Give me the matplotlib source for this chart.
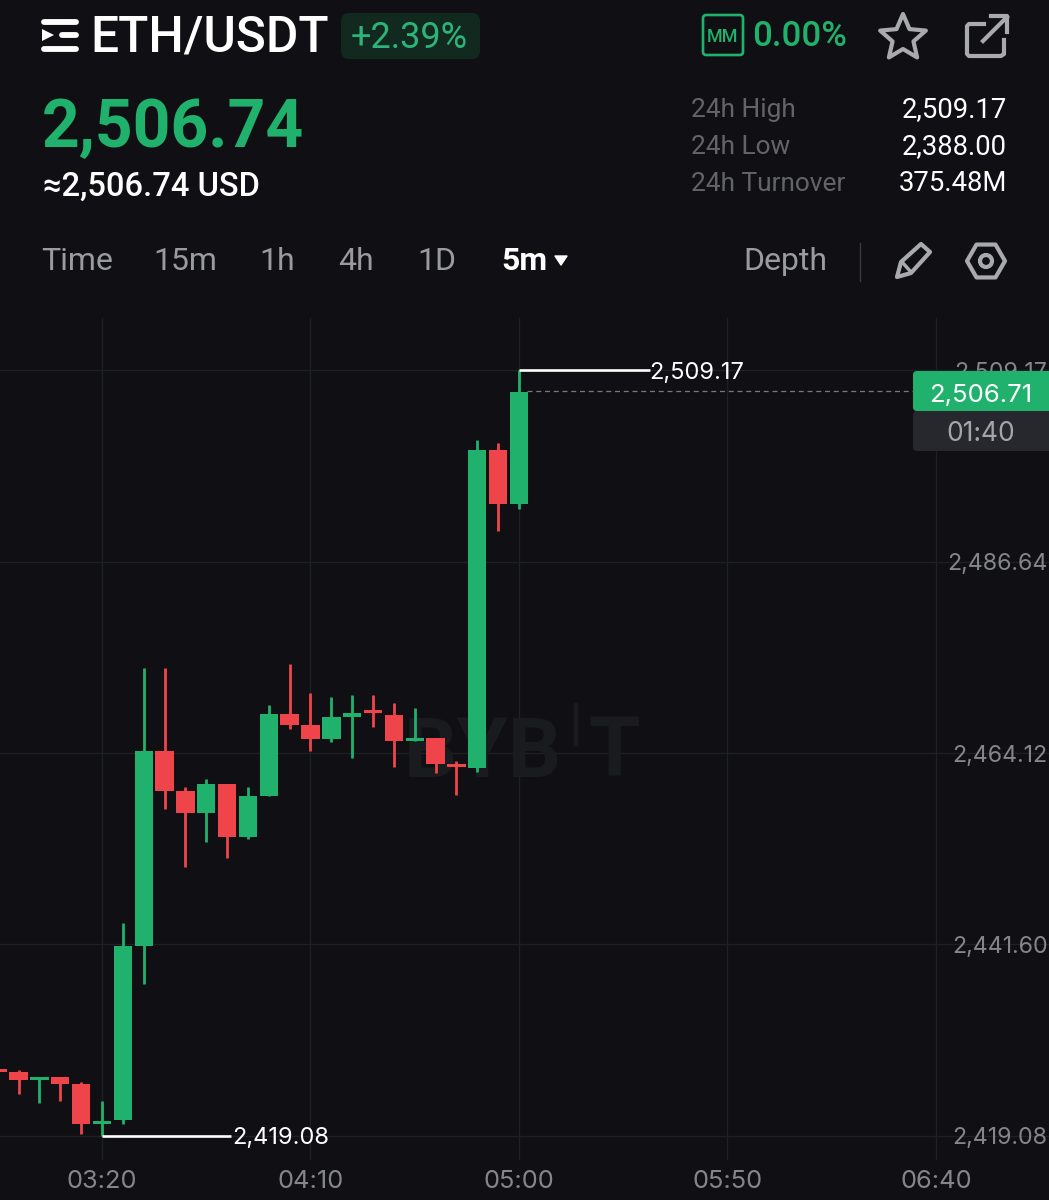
import numpy as np
import matplotlib
matplotlib.use("Agg")
import matplotlib.pyplot as plt
from matplotlib.patches import FancyBboxPatch, Polygon, Rectangle, Circle

plt.rcParams['font.family'] = ['Inter', 'DejaVu Sans']

BG = '#101014'
GREEN = '#20b26c'
RED = '#ef454a'
GRID = '#1f2024'
GREY = '#9a9ba1'
ICON = '#a9aaaf'
HEAD = ['Roboto', 'DejaVu Sans']

# 5m candles, index 0 is the 03:20 bar
idx = np.arange(-5, 21)
opens = [2426.93, 2426.58, 2425.64, 2425.99, 2425.17, 2420.46, 2420.93, 2441.41, 2464.41, 2459.66,
         2457.07, 2460.52, 2454.25, 2459.07, 2468.76, 2467.47, 2465.82, 2468.37, 2469.23, 2468.61,
         2465.55, 2465.90, 2462.84, 2462.40, 2499.81, 2493.45]
closes = [2426.58, 2425.64, 2425.99, 2425.17, 2420.46, 2420.81, 2441.41, 2464.41, 2459.66, 2457.07,
          2460.52, 2454.25, 2459.07, 2468.76, 2467.47, 2465.82, 2468.37, 2468.84, 2468.84, 2465.55,
          2465.90, 2462.84, 2462.49, 2499.81, 2493.45, 2506.69]
highs = [2426.93, 2426.81, 2425.99, 2425.99, 2425.40, 2423.17, 2444.12, 2474.14, 2474.14, 2460.13,
         2461.07, 2460.52, 2460.13, 2469.79, 2474.61, 2471.20, 2470.76, 2470.96, 2470.96, 2470.02,
         2469.47, 2465.90, 2463.19, 2500.98, 2500.63, 2509.17]
lows = [2426.58, 2423.99, 2422.93, 2423.17, 2419.28, 2419.08, 2420.46, 2436.94, 2457.54, 2450.71,
        2453.66, 2451.77, 2454.01, 2459.07, 2466.96, 2464.37, 2465.43, 2463.58, 2467.23, 2462.52,
        2465.55, 2461.78, 2459.23, 2461.93, 2490.31, 2492.86]

price_ticks = [2509.17, 2486.64, 2464.12, 2441.60, 2419.08]
time_pos = [0, 10, 20, 30, 40]
time_labels = ['03:20', '04:10', '05:00', '05:50', '06:40']

high_idx, high_price = 20, 2509.17
low_idx, low_price = 0, 2419.08
last_price = 2506.71

W, H = 1049, 1200
fig = plt.figure(figsize=(W / 100, H / 100), dpi=100, facecolor=BG)

# chart panel spans y 318-1160 px
ax = fig.add_axes([0, 1 - 1160 / H, 1, (1160 - 318) / H], zorder=1)
ax.set_facecolor(BG)
ax.set_xlim(-4.892, 45.42)
ax.set_ylim(2416.22, 2515.35)
for s in ax.spines.values():
    s.set_visible(False)

ax.set_xticks(time_pos)
ax.set_xticklabels(time_labels, fontsize=18.3, color='#85868b')
ax.yaxis.tick_right()
ax.set_yticks(price_ticks)
ax.set_yticklabels(['{:,.2f}'.format(p) for p in price_ticks], fontsize=16.7, color='#85868b', ha='right')
ax.tick_params(axis='x', length=0, pad=7.5)
ax.tick_params(axis='y', length=0, pad=-1)
ax.grid(True, color=GRID, linewidth=0.9)
ax.set_axisbelow(True)

# pixel layer for the app chrome
ui = fig.add_axes([0, 0, 1, 1], zorder=2)
ui.set_xlim(0, W)
ui.set_ylim(H, 0)
ui.axis('off')

# watermark sits behind the candles
wm = dict(transform=ui.transData, color='#1a1b1f', fontsize=60, fontweight='bold', va='baseline', zorder=1, family=HEAD)
ax.text(404, 777, 'BYB', **wm)
ax.add_patch(Rectangle((574, 703), 3, 42, transform=ui.transData, color='#1a1b1f', zorder=1))
ax.text(588, 777, 'T', **wm)

# candles
colors = [GREEN if c >= o else RED for o, c in zip(opens, closes)]
ax.vlines(idx, lows, highs, colors=colors, linewidth=2.0, zorder=3)
body_low = np.minimum(opens, closes)
body_h = np.maximum(np.abs(np.array(closes) - np.array(opens)), 0.3)
ax.bar(idx, body_h, bottom=body_low, width=0.88, color=colors, linewidth=0, zorder=4)

# high / low markers and last price line
ax.plot([high_idx, 26.3], [high_price, high_price], color='white', linewidth=1.9, zorder=5, solid_capstyle='butt')
ax.plot([low_idx, 6.2], [low_price, low_price], color='white', linewidth=1.9, zorder=5, solid_capstyle='butt')
ax.text(26.25, high_price, '{:,.2f}'.format(high_price), color='white', fontsize=17, va='center_baseline', zorder=6)
ax.text(6.25, low_price, '{:,.2f}'.format(low_price), color='white', fontsize=17, va='center_baseline', zorder=6)
ax.plot([20.4, 38.9], [last_price, last_price], color='#77787c', linewidth=0.9, linestyle=(0, (4, 3)), zorder=2)


def txt(x, y, s, size, color, weight='normal', ha='left', family=HEAD):
    ui.text(x, y, s, fontsize=size, color=color, fontweight=weight, ha=ha, va='baseline', family=family)


def rbox(x, y, w, h, r, **kw):
    ui.add_patch(FancyBboxPatch((x + r, y + r), w - 2 * r, h - 2 * r, boxstyle='round,pad=%f,rounding_size=%f' % (r, r), **kw))


# price badge
rbox(913, 411, 150, 40, 4, facecolor='#26282d', linewidth=0)
rbox(913, 371, 150, 40, 4, facecolor=GREEN, linewidth=0)
txt(981, 402, '{:,.2f}'.format(last_price), 18.5, 'white', ha='center', family=plt.rcParams['font.family'])
txt(981, 441, '01:40', 19, '#a4a5a9', ha='center', family=plt.rcParams['font.family'])

# header logo
ui.plot([44, 76], [21.5, 21.5], color='white', linewidth=4.2, solid_capstyle='round')
ui.plot([62, 76], [35, 35], color='white', linewidth=4.2, solid_capstyle='round')
ui.plot([44, 76], [49, 49], color='white', linewidth=4.2, solid_capstyle='round')
ui.add_patch(Polygon([[42, 29], [54, 35], [42, 41]], closed=True, facecolor='white', linewidth=0))
txt(90, 52, 'ETH/USDT', 35.8, 'white', 'medium')
rbox(341, 13, 139, 46, 8, facecolor='#12291f', linewidth=0)
txt(351, 48, '+2.39%', 26, '#2db47a')
rbox(703, 15, 40, 40, 3, facecolor='none', edgecolor=GREEN, linewidth=1.9)
txt(723, 42, 'MM', 13, GREEN, 'medium', ha='center')
txt(752, 46, '0.00%', 25, GREEN, 'medium')

# star icon
ang = np.deg2rad(-90 + 36 * np.arange(10))
rad = np.where(np.arange(10) % 2 == 0, 24, 11)
ui.add_patch(Polygon(np.c_[903 + rad * np.cos(ang), 38 + rad * np.sin(ang)], closed=True, facecolor='none',
                     edgecolor=ICON, linewidth=3, joinstyle='round'))
# share icon
ui.plot([984, 969, 967, 967, 969, 1001, 1004, 1004], [24, 24, 26, 54, 56, 56, 54, 40], color=ICON, linewidth=3, solid_joinstyle='round')
ui.plot([983, 1007], [41, 17], color=ICON, linewidth=3)
ui.plot([991, 1007, 1007], [16, 16, 32], color=ICON, linewidth=3)

txt(42, 147, '2,506.74', 47.5, GREEN, 'bold')
txt(43, 196, '≈2,506.74 USD', 23.5, 'white', 'medium')

stat_names = ['24h High', '24h Low', '24h Turnover']
stat_vals = ['2,509.17', '2,388.00', '375.48M']
for name, val, y0 in zip(stat_names, stat_vals, [117, 154, 191]):
    txt(691, y0, name, 18.9, '#63646a')
    txt(1007, y0, val, 19.8, 'white', ha='right')

tab_names = ['Time', '15m', '1h', '4h', '1D']
tab_x = [41, 153, 259, 338, 417]
for name, x0 in zip(tab_names, tab_x):
    txt(x0, 270, name, 23, GREY)
txt(501, 270, '5m', 23, 'white', 'bold')
ui.add_patch(Polygon([[555, 256], [567, 256], [561, 265]], closed=True, facecolor='white', edgecolor='white', linewidth=1, joinstyle='round'))
txt(743, 270, 'Depth', 23, GREY)
ui.plot([860, 860], [243, 281], color='#3a3b40', linewidth=1)

# pencil icon
ui.add_patch(Polygon([[897, 277], [901, 262], [921, 244], [930, 252], [911, 273]], closed=True, facecolor='none',
                     edgecolor=ICON, linewidth=3, joinstyle='round'))
ui.plot([902, 911], [262, 272], color=ICON, linewidth=2.5)
# hexagon icon
ang = np.deg2rad(60 * np.arange(6))
ui.add_patch(Polygon(np.c_[986 + 19 * np.cos(ang), 261 + 19 * np.sin(ang)], closed=True, facecolor='none',
                     edgecolor=ICON, linewidth=3, joinstyle='round'))
ui.add_patch(Circle((986, 261), 6, facecolor='none', edgecolor=ICON, linewidth=3))

fig.savefig('out.png', dpi=100, facecolor=BG)
